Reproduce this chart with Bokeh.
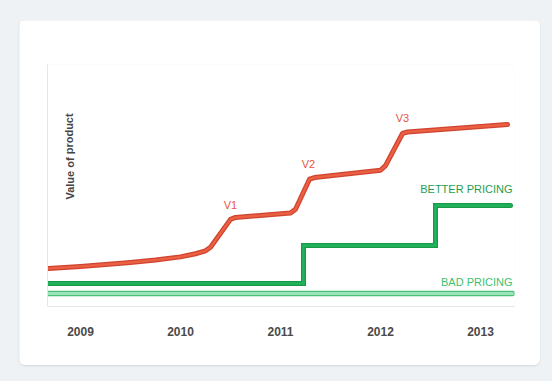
from bokeh.plotting import figure
from bokeh.layouts import column
from bokeh.models import Range1d, FixedTicker, ColumnDataSource
from bokeh.core.properties import value
from bokeh.embed import file_html
from bokeh.resources import INLINE

# ---- data ----
years = [2009, 2010, 2011, 2012, 2013]
year_labels = ["2009", "2010", "2011", "2012", "2013"]

product_x = [2008.68, 2009.0, 2009.5, 2009.75, 2010.0, 2010.15, 2010.25, 2010.3, 2010.5, 2010.55,
             2011.1, 2011.15, 2011.29, 2011.34, 2012.0, 2012.05, 2012.22, 2012.27, 2013.27]
product_y = [15.7, 16.5, 18.2, 19.2, 20.5, 21.8, 23.0, 24.5, 36.0, 36.8,
             38.6, 40.2, 52.6, 53.3, 56.3, 58.2, 71.5, 72.1, 75.2]

better_x = [2008.68, 2011.23, 2011.23, 2012.55, 2012.55, 2013.30]
better_y = [9.5, 9.5, 25.2, 25.2, 41.7, 41.7]

bad_x = [2008.68, 2013.32]
bad_y = [5.4, 5.4]

versions = ["V1", "V2", "V3"]
version_x = [2010.5, 2011.28, 2012.22]
version_y = [42.0, 59.0, 78.0]

series_labels = ["BETTER PRICING", "BAD PRICING"]
series_label_x = [2013.32, 2013.32]
series_label_y = [48.4, 10.3]

p = figure(width=521, height=345, output_backend="svg", toolbar_location=None,
           x_range=Range1d(2008.67, 2013.34), y_range=Range1d(0, 100),
           min_border_left=28, min_border_right=26, min_border_top=44, min_border_bottom=59)
p.margin = (20, 12, 16, 19)
p.styles = {"border-radius": "6px", "overflow": "hidden",
            "box-shadow": "0 1px 2px rgba(0,0,0,0.12)"}

p.border_fill_color = "white"
p.background_fill_color = "white"
p.outline_line_color = None
p.xgrid.visible = False
p.ygrid.visible = False

# axes
p.xaxis.ticker = FixedTicker(ticks=years)
p.xaxis.major_label_overrides = {y: l for y, l in zip(years, year_labels)}
p.xaxis.axis_line_color = "#e4e6e9"
p.xaxis.major_tick_line_color = None
p.xaxis.minor_tick_line_color = None
p.xaxis.major_tick_out = 0
p.xaxis.major_label_standoff = 20
p.xaxis.major_label_text_font = "Liberation Sans"
p.xaxis.major_label_text_font_style = "bold"
p.xaxis.major_label_text_font_size = "12px"
p.xaxis.major_label_text_color = "#4a4a4a"

p.yaxis.ticker = FixedTicker(ticks=[])
p.yaxis.axis_line_color = "#e4e6e9"
p.yaxis.major_tick_line_color = None
p.yaxis.minor_tick_line_color = None

# lines
p.line(bad_x, bad_y, line_color="#4cbf7a", line_width=5.5, line_cap="round")
p.line(bad_x, bad_y, line_color="#9be3b8", line_width=3, line_cap="round")

p.line(better_x, better_y, line_color="#17994a", line_width=5, line_cap="round", line_join="miter")
p.line(better_x, better_y, line_color="#22b35c", line_width=2.5, line_cap="round", line_join="miter")

p.line(product_x, product_y, line_color="#cf4430", line_width=5, line_cap="round", line_join="round")
p.line(product_x, product_y, line_color="#eb5f42", line_width=2.5, line_cap="round", line_join="round")

# texts
p.text(x=version_x, y=version_y, text=versions, text_color="#e5563d",
       text_font=value("Liberation Sans"), text_font_size="11px",
       text_align="center", text_baseline="middle")

lab_src = ColumnDataSource(dict(x=series_label_x, y=series_label_y, text=series_labels,
                                color=["#1f9d4e", "#3cc26e"]))
p.text(x="x", y="y", text="text", source=lab_src, text_color="color",
       text_font=value("Liberation Sans"), text_font_size="11px",
       text_align="right", text_baseline="middle")

p.text(x=[2008.89], y=[62.0], text=["Value of product"], angle=1.5708,
       text_color="#444444", text_font=value("Liberation Sans"), text_font_style="bold",
       text_font_size="11px", text_align="center", text_baseline="middle")

layout = column(p, width=552, height=381, styles={"background-color": "#eef2f5"})

open("out.html", "w").write(file_html(layout, INLINE))
